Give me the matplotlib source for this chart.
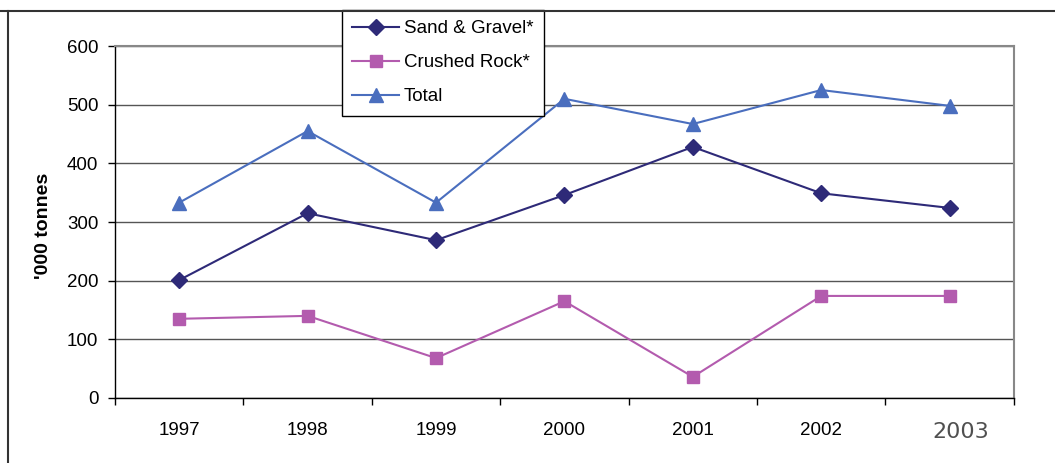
import numpy as np
import matplotlib.pyplot as plt
import matplotlib.transforms as mtransforms
from matplotlib.lines import Line2D

years = ['1997', '1998', '1999', '2000', '2001', '2002', '2003']
sand_gravel = [201, 315, 269, 346, 428, 349, 324]
crushed_rock = [135, 140, 68, 165, 36, 174, 174]
total = [333, 455, 333, 510, 467, 525, 498]

plt.rcParams['font.family'] = ['Liberation Sans', 'DejaVu Sans']

fig = plt.figure(figsize=(10.55, 4.63), dpi=100)
ax = fig.add_axes([0.109, 0.1404, 0.852, 0.7602])

x = np.arange(len(years))
ax.plot(x, sand_gravel, color='#2E2A78', lw=1.5, marker='D', ms=8,
        label='Sand & Gravel*', zorder=3)
ax.plot(x, crushed_rock, color='#B35BAE', lw=1.5, marker='s', ms=9,
        label='Crushed Rock*', zorder=3)
ax.plot(x, total, color='#4A6EBE', lw=1.5, marker='^', ms=10,
        label='Total', zorder=3)

ax.set_xlim(-0.5, len(years) - 0.5)
ax.set_ylim(0, 600)
ax.set_yticks(np.arange(0, 601, 100))
ax.yaxis.grid(True, color='#555555', lw=1)
ax.set_axisbelow(True)

# ticks sit on category boundaries, labels in the middle
ax.set_xticks(np.arange(-0.5, len(years), 1))
ax.set_xticklabels([])
ax.set_xticks(x, minor=True)
ax.set_xticklabels(years, minor=True)
ax.tick_params(axis='x', which='major', direction='out', length=5, width=1)
ax.tick_params(axis='x', which='minor', length=0, pad=17, labelsize=13.5)
ax.tick_params(axis='y', direction='out', length=5, width=1, pad=7, labelsize=13.5)

# the last year label is set in a different face
last = ax.get_xticklabels(minor=True)[-1]
last.set_family('DejaVu Sans')
last.set_color('#505050')
last.set_fontsize(16)
last.set_transform(last.get_transform() +
                   mtransforms.ScaledTranslation(11 / 100, 0, fig.dpi_scale_trans))

for side in ['top', 'right']:
    ax.spines[side].set_color('#888888')
    ax.spines[side].set_linewidth(1.5)
for side in ['left', 'bottom']:
    ax.spines[side].set_color('black')
    ax.spines[side].set_linewidth(1)

ax.set_ylabel("'000 tonnes", fontsize=14, fontweight='bold')
ax.yaxis.set_label_coords(-0.07, 0.49)

# outer frame lines
fig.add_artist(Line2D([0, 1], [0.976, 0.976], color='#333333', lw=1.5))
fig.add_artist(Line2D([0.0076, 0.0076], [0, 0.976], color='#333333', lw=1.5))

leg = ax.legend(loc='upper left', bbox_to_anchor=(342 / 1055, 1 - 10 / 463),
                bbox_transform=fig.transFigure, fontsize=13.5, frameon=True,
                fancybox=False, edgecolor='black', framealpha=1,
                handlelength=2.5, labelspacing=0.9, borderpad=0.55,
                handletextpad=0.25, borderaxespad=0)
leg.get_frame().set_linewidth(1)
leg.set_zorder(5)

fig.savefig('out.png', dpi=100)
